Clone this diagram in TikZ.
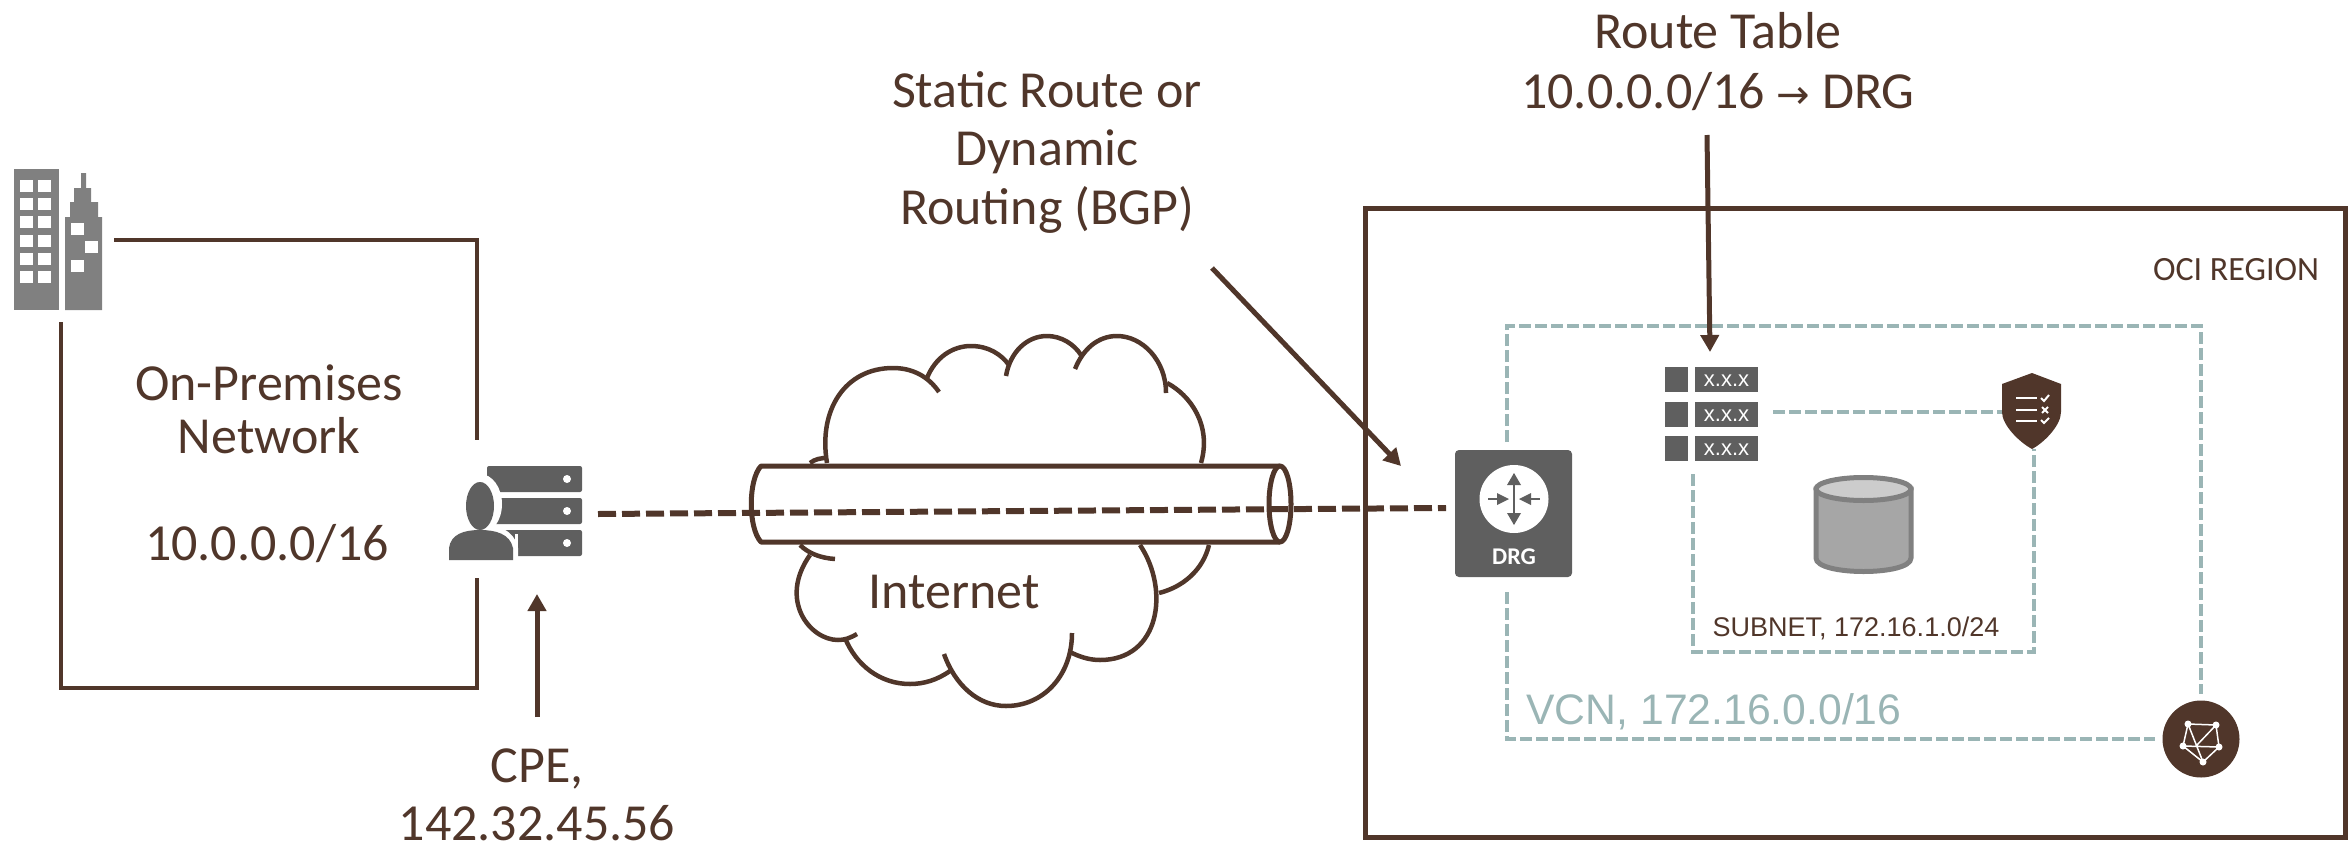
\documentclass[tikz,border=0pt]{standalone}
\usepackage{fontspec}
\setmainfont{Carlito}
\newfontfamily\arialf{Liberation Sans}
\usetikzlibrary{arrows.meta}
\definecolor{brn}{HTML}{50362A}
\definecolor{teal}{HTML}{9AB5B5}
\definecolor{icon}{HTML}{5F5F5F}
\definecolor{bld}{HTML}{808080}
\tikzset{
 x=1pt,y=-1pt,
 wire/.style={draw=brn,line width=4pt},
 cloudarc/.style={draw=brn,line width=4.5pt},
 tubeline/.style={draw=brn,line width=5pt,line join=round},
 dashwire/.style={draw=brn,line width=6pt,dash pattern=on 18pt off 6pt},
 tealdash/.style={draw=teal,line width=4pt,dash pattern=on 12pt off 4pt},
 callout/.style={draw=brn,line width=5pt,-{Triangle[length=17pt,width=18pt]}},
 lbl/.style={text=brn,anchor=base,inner sep=0pt,font=\fontsize{52}{56}\selectfont},
 arial/.style={text=brn,anchor=base,inner sep=0pt},
}
\begin{document}
\begin{tikzpicture}
\useasboundingbox (0,0) rectangle (2351,844);
% named anchors
\coordinate (bldTop) at (114,240);
\coordinate (cornerTR) at (477,240);
\coordinate (cpeUp) at (477,440);
\coordinate (bldLow) at (61,322);
\coordinate (cornerBL) at (61,688);
\coordinate (cornerBR) at (477,688);
\coordinate (cpeDown) at (477,578);
\coordinate (cpeE) at (598,514);
\coordinate (drgW) at (1446,508);
\coordinate (cpeLblTop) at (537,717);
\coordinate (cpeS) at (537,594);
\coordinate (staticFrom) at (1212,268);
\coordinate (drgNW) at (1401,466);
\coordinate (rtFrom) at (1707,135);
\coordinate (tblN) at (1710,352);
% building
\node[minimum width=45pt,minimum height=141pt,inner sep=0pt,fill=bld] (building) at (36.5,239.5) {};
\fill[bld] (65,310) -- (65,217) -- (70,217) -- (70,202) -- (74,202) -- (74,188) -- (81,188) -- (81,173) -- (86,173) -- (86,188) -- (91,188) -- (91,202) -- (98,202) -- (98,217) -- (102,217) -- (102,310) -- cycle;
\foreach \yy in {186,204,222,241,259,277}{
 \fill[white] (20,\yy-6) rectangle (33,\yy+6);
 \fill[white] (38,\yy-6) rectangle (51,\yy+6);
}
\fill[white] (71,223) rectangle (84,235);
\fill[white] (85,241) rectangle (98,253);
\fill[white] (71,260) rectangle (84,272);
% on-prem wires
\draw[wire,line cap=butt,line join=miter] (bldTop) -- (cornerTR) -- (cpeUp);
\draw[wire,line join=miter] (bldLow) -- (cornerBL) -- (cornerBR) -- (cpeDown);
% CPE icon
\node[minimum width=134pt,minimum height=95pt,inner sep=0pt] (cpe) at (515,512) {};
\foreach \yy in {466,498,530}{
 \fill[icon,rounded corners=2pt] (487,\yy) rectangle (582,\yy+26);
 \fill[white] (567,\yy+13) circle (4);
}
\fill[white] (480,504) ellipse (22 and 30);
\fill[white] (444,564) -- (444,548) .. controls (446,530) and (462,524) .. (480,524) .. controls (498,524) and (514,530) .. (518,548) -- (518,564) -- cycle;
\fill[icon] (480,506) ellipse (14 and 24);
\fill[icon] (449,560) -- (449,548) .. controls (451,534) and (464,530) .. (480,530) .. controls (496,530) and (510,534) .. (513,548) -- (513,560) -- cycle;
\draw[white,line width=3pt] (516,560) -- (516,534);
% cloud
\begin{scope}[cloudarc]
\draw (827,463) .. controls (818,410) and (845,368) .. (893,368) .. controls (912,368) and (928,376) .. (939,392);
\draw (927,378) .. controls (935,358) and (952,346) .. (971,346) .. controls (988,346) and (1001,354) .. (1009,365);
\draw (1006,376) .. controls (1010,352) and (1027,336) .. (1047,336) .. controls (1061,336) and (1074,344) .. (1081,355);
\draw (1075,369) .. controls (1083,349) and (1098,336) .. (1117,336) .. controls (1142,336) and (1166,360) .. (1166,393);
\draw (1167,383) .. controls (1190,395) and (1212,425) .. (1201,463);
\draw (810,463) .. controls (815,459) and (821,458) .. (827,458);
\draw (1209,545) .. controls (1203,570) and (1183,587) .. (1159,593);
\draw (1140,545) .. controls (1170,590) and (1160,660) .. (1100,660) .. controls (1088,660) and (1078,656) .. (1070,652);
\draw (1072,633) .. controls (1072,675) and (1044,706) .. (1006,706) .. controls (978,706) and (955,685) .. (944,654);
\draw (950,671) .. controls (937,680) and (924,684) .. (910,684) .. controls (880,684) and (856,665) .. (845,638);
\draw (857,634) .. controls (850,638) and (845,640) .. (838,640) .. controls (810,640) and (778,600) .. (810,555);
\draw (800,545) .. controls (808,553) and (820,558) .. (835,559);
\end{scope}
% tube
\node[minimum width=530pt,minimum height=76pt,inner sep=0pt] (tube) at (1015,504) {};
\fill[white] (761,466) .. controls (748,480) and (748,528) .. (761,542) -- (1280,542) -- (1280,466) -- cycle;
\draw[tubeline] (1280,466) -- (761,466) .. controls (748,480) and (748,528) .. (761,542) -- (1280,542);
\fill[white] (1280,504) ellipse (11 and 38);
\draw[dashwire] (cpeE) -- (drgW);
\draw[tubeline] (1280,504) ellipse (11 and 38);
% region
\node[draw=brn,line width=5pt,minimum width=980pt,minimum height=629pt,inner sep=0pt] (region) at (1855,522.5) {};
% VCN, subnet
\coordinate (vcnA) at (1507,442);
\coordinate (vcnNW) at (1507,326);
\coordinate (vcnNE) at (2201,326);
\coordinate (netN) at (2201,694);
\coordinate (vcnB) at (1507,592);
\coordinate (vcnSW) at (1507,739);
\coordinate (netW) at (2155,739);
\coordinate (subA) at (1693,474);
\coordinate (subSW) at (1693,652);
\coordinate (subSE) at (2034,652);
\coordinate (shS) at (2034,449);
\coordinate (tblE) at (1773,412);
\coordinate (shW) at (2003,412);
\draw[tealdash] (vcnA) -- (vcnNW) -- (vcnNE) -- (netN);
\draw[tealdash] (vcnB) -- (vcnSW) -- (netW);
\draw[tealdash] (subA) -- (subSW) -- (subSE) -- (shS);
\draw[tealdash] (tblE) -- (shW);
% DRG
\node[fill=icon,rounded corners=4pt,minimum width=117pt,minimum height=127pt,inner sep=0pt] (drg) at (1513.5,513.5) {};
\fill[white] (1514,499) ellipse (34.5 and 34);
\begin{scope}[icon]
\draw[icon,line width=2pt] (1514,474) -- (1514,524);
\fill (1507,485) -- (1514,473) -- (1521,485) -- cycle;
\fill (1507,513) -- (1514,525) -- (1521,513) -- cycle;
\draw[icon,line width=2pt] (1488,499) -- (1500,499);
\fill (1497,493) -- (1509,499) -- (1497,505) -- cycle;
\draw[icon,line width=2pt] (1528,499) -- (1540,499);
\fill (1531,493) -- (1519,499) -- (1531,505) -- cycle;
\end{scope}
\node[text=white,inner sep=0pt,anchor=base,font=\bfseries\fontsize{24}{24}\selectfont] (drgtxt) at (1514,564) {DRG};
% route table icon
\foreach \yy/\nn in {367/a,402/b,436/c}{
 \fill[icon] (1665,\yy) rectangle (1688,\yy+25);
 \fill[icon] (1695,\yy) rectangle (1758,\yy+25);
 \node[text=white,inner sep=0pt,font=\arialf\fontsize{22}{22}\selectfont] (x\nn) at (1726.5,\yy+14) {x.x.x};
}
% cylinder
\node[minimum width=101pt,minimum height=97pt,inner sep=0pt] (db) at (1863.5,523.5) {};
\filldraw[fill=gray!70,draw=bld,line width=5pt,fill=black!35] (1816,489) -- (1816,558) .. controls (1816,576) and (1911,576) .. (1911,558) -- (1911,489) -- cycle;
\filldraw[fill=black!20,draw=bld,line width=5pt] (1863.5,489) ellipse (47.5 and 11.5);
% shield
\node[minimum width=59pt,minimum height=76pt,inner sep=0pt] (shield) at (2031.5,411) {};
\fill[brn] (2032,373) -- (2061,384) -- (2061,412) .. controls (2061,425) and (2045,442) .. (2032,449) .. controls (2019,442) and (2002,425) .. (2002,412) -- (2002,384) -- cycle;
\foreach \yy in {398,410,421}{\draw[white,line width=2.5pt] (2016,\yy) -- (2037,\yy);}
\draw[white,line width=2pt] (2041,398) -- (2044,401) -- (2049,395);
\draw[white,line width=2pt] (2042,407) -- (2048,413) (2048,407) -- (2042,413);
\draw[white,line width=2pt] (2041,420) -- (2044,423) -- (2049,418);
% network circle
\node[fill=brn,circle,minimum size=77pt,inner sep=0pt] (net) at (2201,739) {};
\begin{scope}[white,line width=1.5pt]
\draw (2188,724) -- (2216,725) -- (2219,747) -- (2203,762) -- (2183,746) -- cycle;
\draw (2188,724) -- (2203,762) (2216,725) -- (2196,746) (2183,746) -- (2219,747) ;
\foreach \pp in {(2188,724),(2216,725),(2219,747),(2203,762),(2183,746)}{\fill[white] \pp circle (3.5);}
\end{scope}
% callouts
\draw[callout] (cpeLblTop) -- (cpeS);
\draw[callout] (staticFrom) -- (drgNW);
\draw[callout] (rtFrom) -- (tblN);
% labels
\node[lbl] (t1) at (269,400) {On-Premises};
\node[lbl] (t2) at (269,453) {Network};
\node[lbl] (t3) at (267,560) {10.0.0.0/16};
\node[lbl] (t4) at (954,608) {Internet};
\node[lbl] (t5) at (537,782) {CPE,};
\node[lbl] (t6) at (537,840) {142.32.45.56};
\node[lbl] (t7) at (1047,107) {Static Route or};
\node[lbl] (t8) at (1047,165) {Dynamic};
\node[lbl] (t9) at (1047,224) {Routing (BGP)};
\node[lbl] (t10) at (1718,48) {Route Table};
\node[lbl] (t11) at (1718,108) {10.0.0.0/16 {\fontspec{DejaVu Sans}\fontsize{40}{40}\selectfont →} DRG};
\node[arial,font=\fontsize{34}{36}\selectfont] (t12) at (2236,280) {OCI REGION};
\node[arial,font=\arialf\fontsize{27}{30}\selectfont] (t13) at (1856,636) {SUBNET, 172.16.1.0/24};
\node[arial,text=teal,font=\arialf\fontsize{42.7}{46}\selectfont] (t14) at (1714,724) {VCN, 172.16.0.0/16};
\end{tikzpicture}
\end{document}
